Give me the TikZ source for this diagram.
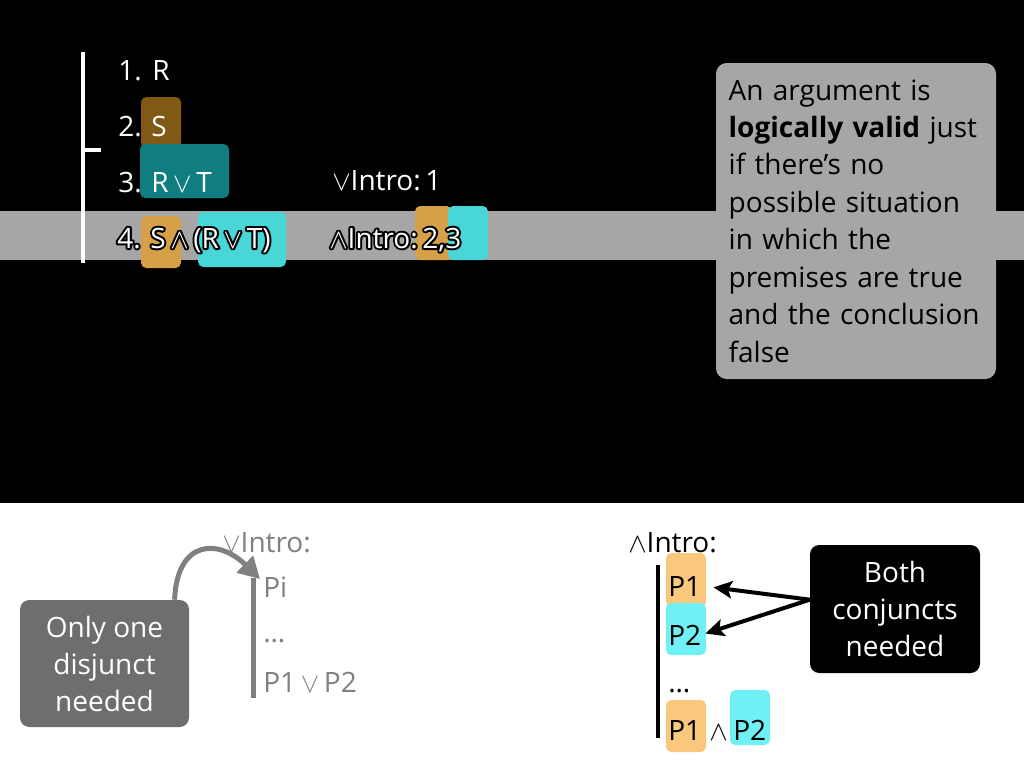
\documentclass[tikz,border=0pt]{standalone}
\usepackage{fontspec}
\setmainfont{Open Sans}
\usetikzlibrary{arrows.meta}
\definecolor{band}{RGB}{166,166,166}
\definecolor{brownhl}{RGB}{128,90,20}
\definecolor{tealhl}{RGB}{16,125,128}
\definecolor{orhl}{RGB}{214,160,72}
\definecolor{cyhl}{RGB}{72,214,214}
\definecolor{orlt}{RGB}{250,200,125}
\definecolor{cylt}{RGB}{110,240,245}
\definecolor{midgray}{RGB}{128,128,128}
\definecolor{darkbox}{RGB}{110,110,110}
\tikzset{
  txt/.style={anchor=base west, inner sep=0pt, font=\fontsize{21}{24}\selectfont},
  wtxt/.style={txt, text=white},
  gtxt/.style={txt, text=midgray},
  btxt/.style={txt, text=black},
  hl/.style={rounded corners=4pt},
  garrow/.style={draw=midgray, line width=3.75pt, -{Triangle[length=16pt,width=17pt]}},
  barrow/.style={draw=black, line width=3pt, -{Stealth[length=14pt,width=13pt,inset=3pt]}},
}
\newcommand{\glowtxt}[1]{\rlap{\special{pdf:literal direct 1 Tr 3 w 0 G 1 j}#1\special{pdf:literal direct 0 Tr}}#1}
\begin{document}
\begin{tikzpicture}[x=0.75pt,y=-0.75pt]
\useasboundingbox (0,0) rectangle (1024,768);
\fill[black] (0,0) rectangle (1024,503);
\fill[white] (0,503) rectangle (1024,768);
\fill[band] (0,211) rectangle (1024,260);

% proof bar
\draw[white, line width=3pt] (83,52) -- (83,263);
\draw[white, line width=3pt] (83,150) -- (101,150);

% highlights top
\fill[brownhl, hl] (141,97) rectangle (181,148);
\fill[tealhl, hl] (140,144) rectangle (229,198);
\fill[orhl, hl] (141,216) rectangle (181,268);
\fill[cyhl, hl] (198,212) rectangle (286,267);
\fill[orhl, hl] (415,206) rectangle (452,260);
\fill[cyhl, hl] (448,206) rectangle (488,260);

% lines
\node[wtxt] (n1) at (118,80) {1.};
\node[wtxt] (f1) at (152,80) {R};
\node[wtxt] (n2) at (118,136) {2.};
\node[wtxt] (f2) at (151,136) {S};
\node[wtxt] (n3) at (118,192) {3.};
\node[wtxt] (f3) at (151,192) {R\,$\vee$\,T};
\node[wtxt] (n4) at (117,248) {\glowtxt{4.}};
\node[wtxt] (f4) at (150,248) {\glowtxt{S\,$\wedge$\,(R\,$\vee$\,T)}};
\node[wtxt] (j3) at (332,190) {$\vee$Intro:\,1};
\node[wtxt] (j4) at (329,248) {\glowtxt{$\wedge$Intro:\,2,3}};

% definition box
\node[fill=band, rounded corners=8pt, minimum width=210pt, minimum height=237pt,
      text width=191pt, inner xsep=9.5pt, align=left,
      font=\fontsize{21}{28.1}\selectfont, text=black] (def) at (856,221)
{An argument is\\ \textbf{logically valid} just\\ if there’s no\\ possible situation\\ in which the\\ premises are true\\ and the conclusion\\ false};

% bottom left: or intro
\node[gtxt] (oi) at (222,552) {$\vee$Intro:};
\draw[midgray, line width=3.75pt] (253,578) -- (253,698);
\node[gtxt] (pi) at (263,597) {Pi};
\node[gtxt] (od) at (263,642) {\dots};
\node[gtxt] (oc) at (263,692) {P1\,$\vee$\,P2};
\coordinate (pitip) at (260,579);
\node[fill=darkbox, rounded corners=7pt, minimum width=126.75pt, minimum height=95.25pt,
      align=center, text=white, font=\fontsize{21}{27.75}\selectfont, inner sep=0pt]
      (one) at (104.5,663.5) {Only one\\disjunct\\needed};
\draw[garrow] ([xshift=-11pt]one.north east) .. controls (177,540) and (218,538) .. (pitip);

% bottom right: and intro
\node[btxt] (ai) at (628,552) {$\wedge$Intro:};
\draw[black, line width=3pt] (658,565) -- (658,738);
\fill[orlt, hl] (666,553) rectangle (706,607);
\fill[cylt, hl] (666,603) rectangle (706,655);
\fill[orlt, hl] (666,700) rectangle (706,752);
\fill[cylt, hl] (730,690) rectangle (770,745);
\node[btxt] (p1) at (668,596) {P1};
\node[btxt] (p2) at (668,645) {P2};
\node[btxt] (ad) at (668,692) {\dots};
\node[btxt] (c1) at (668,740) {P1};
\node[btxt] (cw) at (709,740) {$\wedge$};
\node[btxt] (c2) at (733,740) {P2};
\node[fill=black, rounded corners=7pt, minimum width=127.5pt, minimum height=96pt,
      align=center, text=white, font=\fontsize{21}{27.75}\selectfont, inner sep=0pt]
      (both) at (895,609) {Both\\conjuncts\\needed};
\draw[barrow] ([yshift=7pt]both.west) -- ([xshift=9pt,yshift=-1pt]p1.east);
\draw[barrow] ([yshift=7pt]both.west) -- ([xshift=3pt,yshift=1pt]p2.east);
\end{tikzpicture}
\end{document}
